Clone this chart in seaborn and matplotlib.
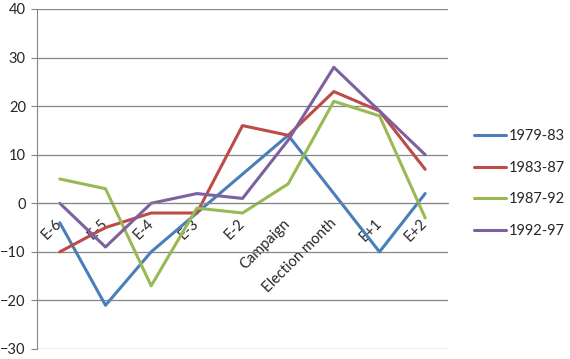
import pandas as pd
import matplotlib.pyplot as plt
import seaborn as sns
from matplotlib.ticker import FixedLocator

# Dados
periods = ['E-6', 'E-5', 'E-4', 'E-3', 'E-2', 'Campaign', 'Election month', 'E+1', 'E+2']
s_1979_83 = [-4, -21, -10, -2, 6, 14, 2, -10, 2]
s_1983_87 = [-10, -5, -2, -2, 16, 14, 23, 19, 7]
s_1987_92 = [5, 3, -17, -1, -2, 4, 21, 18, -3]
s_1992_97 = [0, -9, 0, 2, 1, 13, 28, 19, 10]
series_names = ['1979-83', '1983-87', '1987-92', '1992-97']
colors = ['#4A7EBB', '#BE4B48', '#98B954', '#7D60A0']

rows = []
for name, vals in zip(series_names, [s_1979_83, s_1983_87, s_1987_92, s_1992_97]):
    for i, v in enumerate(vals):
        rows.append({'pos': i, 'value': v, 'series': name})
df = pd.DataFrame(rows)

sns.set_style('white')
plt.rcParams['font.family'] = ['Lato', 'DejaVu Sans']

fig = plt.figure(figsize=(5.7, 3.59), dpi=100)
ax = fig.add_axes([37 / 570, 1 - 349 / 359, (448 - 37) / 570, 340 / 359])

sns.lineplot(data=df, x='pos', y='value', hue='series', palette=colors,
             linewidth=2.2, sort=False, ax=ax)

grid_c = '#868686'
ax.set_ylim(-30, 40)
ax.set_xlim(-0.5, len(periods) - 0.5)
ax.set_yticks(range(-30, 41, 10))
ax.yaxis.grid(True, color=grid_c, linewidth=0.9)
ax.set_axisbelow(True)

for s in ['top', 'right']:
    ax.spines[s].set_visible(False)
ax.spines['left'].set_color(grid_c)
ax.spines['bottom'].set_color(grid_c)
ax.spines['bottom'].set_position(('data', 0))

ax.set_xticks(range(len(periods)))
ax.set_xticklabels(periods, rotation=45, ha='right', va='center',
                   rotation_mode='anchor', fontsize=10.5)
ax.tick_params(axis='x', which='major', length=0, pad=13)
ax.xaxis.set_minor_locator(FixedLocator([i - 0.5 for i in range(len(periods) + 1)]))
ax.tick_params(axis='x', which='minor', length=4, color=grid_c, direction='out')
ax.tick_params(axis='y', length=4, color=grid_c, direction='out', pad=4, labelsize=10.5)
ax.tick_params(left=True, bottom=True)
for lbl in ax.get_xticklabels():
    lbl.set_zorder(5)

ax.set_xlabel('')
ax.set_ylabel('')

ax.legend(frameon=False, loc='upper left', bbox_to_anchor=(461 / 570, 1 - 116 / 359),
          bbox_transform=fig.transFigure, fontsize=10.5, handlelength=2.2,
          handletextpad=0.15, labelspacing=1.2, title=None)

fig.savefig('out.png', dpi=100)
